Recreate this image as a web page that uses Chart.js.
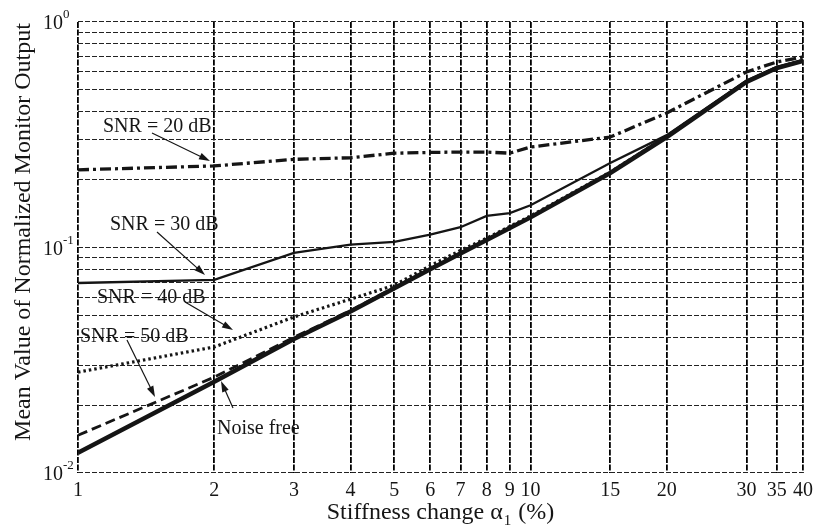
<!DOCTYPE html>
<html lang="en">
<head>
  <meta charset="UTF-8" />
  <title>Mean Value of Normalized Monitor Output</title>
  <script src="https://cdn.jsdelivr.net/npm/chart.js"></script>
  <style>
    html, body { margin: 0; padding: 0; background: #fff; }
    #wrap { width: 814px; height: 531px; }
  </style>
</head>
<body>
  <div id="wrap"><canvas id="chart"></canvas></div>

  <script>
    // stiffness change alpha_1 (%) - also the x tick positions
    const stiffness = [1, 2, 3, 4, 5, 6, 7, 8, 9, 10, 15, 20, 30, 35, 40];

    const noiseFree = [0.0123, 0.0254, 0.0393, 0.052, 0.066, 0.080, 0.094, 0.108, 0.122, 0.136, 0.214, 0.309, 0.542, 0.625, 0.672];
    const snr50 = [0.0147, 0.0266, 0.0400, 0.0525, 0.0665, 0.0805, 0.0945, 0.1085, 0.1225, 0.1365, 0.2145, 0.310, 0.543, 0.627, 0.675];
    const snr40 = [0.028, 0.0362, 0.0492, 0.059, 0.068, 0.083, 0.097, 0.110, 0.124, 0.138, 0.216, 0.311, 0.545, 0.628, 0.676];
    const snr30 = [0.0696, 0.0718, 0.0946, 0.103, 0.106, 0.114, 0.123, 0.138, 0.142, 0.154, 0.237, 0.315, 0.550, 0.632, 0.678];
    const snr20 = [0.221, 0.230, 0.246, 0.250, 0.262, 0.264, 0.265, 0.265, 0.262, 0.279, 0.309, 0.395, 0.600, 0.665, 0.700];

    // y grid lines: 1..9 x each decade
    const yGrid = [0.01, 0.02, 0.03, 0.04, 0.05, 0.06, 0.07, 0.08, 0.09,
                   0.1, 0.2, 0.3, 0.4, 0.5, 0.6, 0.7, 0.8, 0.9, 1];
    const yDecades = [0.01, 0.1, 1];
    const yExponents = ["-2", "-1", "0"];

    const FONT = "'Liberation Serif', 'Times New Roman', serif";
    const INK = "#151515";

    const pts = vals => vals.map((v, i) => ({ x: stiffness[i], y: v }));

    // labels with arrows: text position, arrow start, arrow tip (canvas px)
    const notes = [
      { text: "SNR = 20 dB", tx: 103, ty: 127, from: [152, 133], to: [210, 161] },
      { text: "SNR = 30 dB", tx: 110, ty: 225, from: [157, 232], to: [205, 275] },
      { text: "SNR = 40 dB", tx: 97,  ty: 298, from: [185, 302], to: [233, 330] },
      { text: "SNR = 50 dB", tx: 80,  ty: 337, from: [127, 340], to: [155, 397] },
      { text: "Noise free",  tx: 217, ty: 429, from: [233, 408], to: [221, 381] }
    ];

    function arrow(ctx, x1, y1, x2, y2) {
      const a = Math.atan2(y2 - y1, x2 - x1);
      const len = 11, hw = 3.5;
      ctx.beginPath();
      ctx.moveTo(x1, y1);
      ctx.lineTo(x2 - Math.cos(a) * len * 0.8, y2 - Math.sin(a) * len * 0.8);
      ctx.stroke();
      ctx.beginPath();
      ctx.moveTo(x2, y2);
      ctx.lineTo(x2 - Math.cos(a) * len - Math.sin(a) * hw, y2 - Math.sin(a) * len + Math.cos(a) * hw);
      ctx.lineTo(x2 - Math.cos(a) * len + Math.sin(a) * hw, y2 - Math.sin(a) * len - Math.cos(a) * hw);
      ctx.closePath();
      ctx.fill();
    }

    const decorations = {
      id: "decorations",
      afterDatasetsDraw(chart) {
        const ctx = chart.ctx;
        const area = chart.chartArea;
        const ys = chart.scales.y;
        ctx.save();
        ctx.fillStyle = INK;
        ctx.strokeStyle = INK;

        // y tick labels 10^n
        yDecades.forEach((v, i) => {
          const py = ys.getPixelForValue(v);
          ctx.font = "20px " + FONT;
          ctx.textAlign = "right";
          ctx.textBaseline = "middle";
          ctx.fillText("10", 63, py + 2);
          ctx.font = "13px " + FONT;
          ctx.textAlign = "left";
          ctx.fillText(yExponents[i], 63, py - 7);
        });

        // y axis title
        ctx.save();
        ctx.translate(24, 232);
        ctx.rotate(-Math.PI / 2);
        ctx.font = "24px " + FONT;
        ctx.textAlign = "center";
        ctx.textBaseline = "middle";
        ctx.fillText("Mean Value of Normalized Monitor Output", 0, 0);
        ctx.restore();

        // x axis title with subscript
        const main = "Stiffness change \u03b1";
        const tail = " (%)";
        ctx.font = "24px " + FONT;
        const w1 = ctx.measureText(main).width;
        const w3 = ctx.measureText(tail).width;
        ctx.font = "15px " + FONT;
        const w2 = ctx.measureText("1").width + 2;
        let x0 = (area.left + area.right) / 2 - (w1 + w2 + w3) / 2;
        ctx.textAlign = "left";
        ctx.textBaseline = "middle";
        ctx.font = "24px " + FONT;
        ctx.fillText(main, x0, 513);
        ctx.font = "15px " + FONT;
        ctx.fillText("1", x0 + w1 + 1, 521);
        ctx.font = "24px " + FONT;
        ctx.fillText(tail, x0 + w1 + w2, 513);

        // annotations
        ctx.font = "20px " + FONT;
        ctx.lineWidth = 1.2;
        notes.forEach(n => {
          ctx.textAlign = "left";
          ctx.textBaseline = "middle";
          ctx.fillText(n.text, n.tx, n.ty);
          arrow(ctx, n.from[0], n.from[1], n.to[0], n.to[1]);
        });
        ctx.restore();
      }
    };

    new Chart(document.getElementById("chart"), {
      type: "line",
      data: {
        datasets: [
          { label: "Noise free", data: pts(noiseFree), borderColor: INK, borderWidth: 4.5 },
          { label: "SNR = 50 dB", data: pts(snr50), borderColor: INK, borderWidth: 2.8, borderDash: [10, 5] },
          { label: "SNR = 40 dB", data: pts(snr40), borderColor: INK, borderWidth: 3.2, borderDash: [2.5, 3] },
          { label: "SNR = 30 dB", data: pts(snr30), borderColor: INK, borderWidth: 2.3 },
          { label: "SNR = 20 dB", data: pts(snr20), borderColor: INK, borderWidth: 3.3, borderDash: [11, 4, 3, 4] }
        ]
      },
      options: {
        responsive: true,
        maintainAspectRatio: false,
        animation: false,
        elements: { point: { radius: 0 }, line: { tension: 0 } },
        layout: { padding: { top: 22, right: 11, left: 0, bottom: 0 } },
        plugins: { legend: { display: false }, tooltip: { enabled: false } },
        scales: {
          x: {
            type: "logarithmic",
            min: 1,
            max: 40,
            afterBuildTicks: s => { s.ticks = stiffness.map(v => ({ value: v })); },
            afterFit: s => { s.height = 58; s.paddingLeft = 0; s.paddingRight = 0; },
            ticks: {
              autoSkip: false,
              maxRotation: 0,
              padding: 6,
              color: INK,
              font: { family: FONT, size: 20 },
              callback: v => String(v)
            },
            grid: { color: "#000", lineWidth: 1.8, drawTicks: false },
            border: { display: false, dash: [6, 1.5] }
          },
          y: {
            type: "logarithmic",
            min: 0.01,
            max: 1,
            afterBuildTicks: s => { s.ticks = yGrid.map(v => ({ value: v })); },
            afterFit: s => { s.width = 78; s.paddingTop = 0; s.paddingBottom = 0; },
            ticks: { display: false },
            grid: { color: "#222", lineWidth: 1.1, drawTicks: false },
            border: { display: false, dash: [5, 2] }
          }
        }
      },
      plugins: [decorations]
    });
  </script>
</body>
</html>
